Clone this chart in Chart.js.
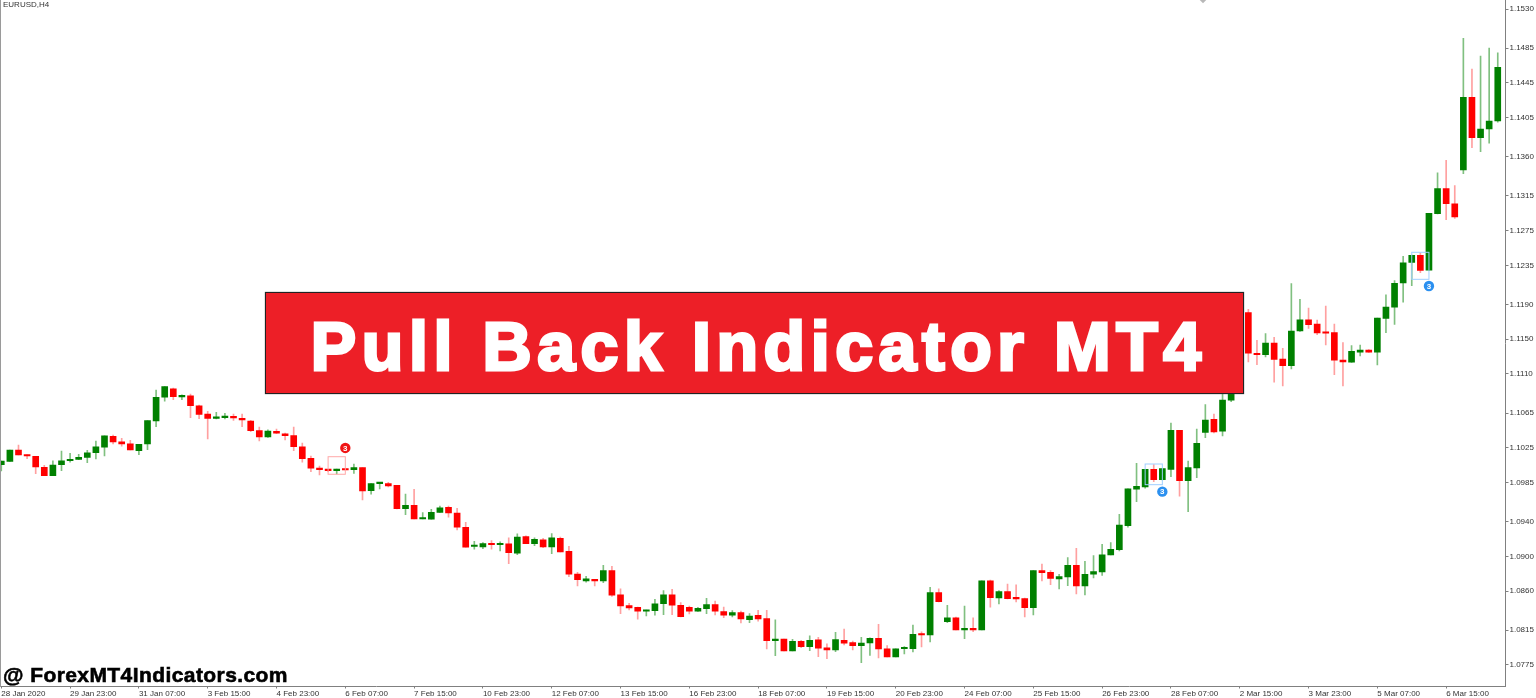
<!DOCTYPE html>
<html lang="en">
<head>
<meta charset="UTF-8">
<title>Pull Back Indicator MT4</title>
<script src="https://cdnjs.cloudflare.com/ajax/libs/Chart.js/4.4.1/chart.umd.min.js"></script>
<style>
  html, body { margin: 0; padding: 0; background: #fff; overflow: hidden; }
  #wrap { position: relative; width: 1536px; height: 698px; }
  canvas { display: block; }
  .leftline { position: absolute; left: 0; top: 0; width: 1px; height: 687px; background: #9a9a9a; }
  .symbol { position: absolute; left: 3px; top: 0; font: 8px "Liberation Sans"; color: #333; line-height: 10px; }
  .diamond { position: absolute; left: 1200px; top: -4px; width: 6px; height: 6px; background: #b8b8b8; transform: rotate(45deg); }
  .banner { position: absolute; left: 265px; top: 292px; width: 977px; height: 100px; background: #ed1f27; border: 1px solid #222;
    box-shadow: 0 0 1px #555; color: #fff; text-align: center; font: bold 68px/107px "Liberation Sans"; letter-spacing: 5.6px;
    text-indent: 8.6px; -webkit-text-stroke: 3px #fff; white-space: nowrap; }
  .site { position: absolute; left: 3px; top: 662px; font: bold 21px/26px "Liberation Sans"; color: #000; letter-spacing: 0.42px;
    -webkit-text-stroke: 0.6px #000; white-space: nowrap; }
</style>
</head>
<body>
<div id="wrap">
  <canvas id="myChart" width="1536" height="698"></canvas>
  <div class="leftline"></div>
  <div class="symbol">EURUSD,H4</div>
  <div class="diamond"></div>
  <div class="banner">Pull Back Indicator MT4</div>
  <div class="site">@ ForexMT4Indicators.com</div>
</div>

<script>
// EURUSD H4 candles
const opens = [
  1.10055,1.10094,1.10224,1.10170,1.10152,1.10025,1.09929,1.10055,1.10101,1.10117,
  1.10140,1.10193,1.10256,1.10382,1.10317,1.10294,1.10216,1.10294,1.10558,1.10831,
  1.10927,1.10835,1.10849,1.10734,1.10639,1.10589,1.10596,1.10612,1.10589,1.10558,
  1.10447,1.10374,1.10440,1.10409,1.10389,1.10262,1.10129,1.10014,1.09994,1.09986,
  1.10002,1.09998,1.10021,1.09756,1.09837,1.09837,1.09818,1.09549,1.09588,1.09430,
  1.09427,1.09507,1.09565,1.09499,1.09335,1.09113,1.09108,1.09151,1.09134,1.09143,
  1.09036,1.09227,1.09146,1.09189,1.09108,1.09208,1.09059,1.08797,1.08717,1.08736,
  1.08717,1.08835,1.08556,1.08432,1.08414,1.08368,1.08375,1.08455,1.08556,1.08437,
  1.08414,1.08368,1.08398,1.08444,1.08363,1.08322,1.08352,1.08271,1.08322,1.08283,
  1.08030,1.08049,1.07911,1.08023,1.07961,1.08038,1.07946,1.07922,1.08034,1.08007,
  1.07972,1.08003,1.08057,1.07937,1.07842,1.07937,1.07937,1.08107,1.08095,1.08582,
  1.08248,1.08291,1.08153,1.08168,1.08153,1.08717,1.08521,1.08594,1.08521,1.08513,
  1.08409,1.08835,1.08817,1.08740,1.08763,1.08897,1.08659,1.08794,1.08820,1.09016,
  1.09077,1.09353,1.09772,1.09799,1.10002,1.09883,1.10002,1.10451,1.09871,1.10017,
  1.10428,1.10578,1.10440,1.10797,1.11088,1.11805,1.11338,1.11321,1.11456,1.11272,
  1.11195,1.11594,1.11724,1.11675,1.11579,1.11575,1.11260,1.11234,1.11349,1.11375,
  1.11349,1.11740,1.11867,1.12147,1.12383,1.12465,1.12293,1.12944,1.13232,1.13059,
  1.13447,1.14284,1.13819,1.13919,1.14011
];
const closes = [
  1.10098,1.10224,1.10167,1.10155,1.10029,1.09929,1.10052,1.10101,1.10117,1.10140,
  1.10193,1.10262,1.10386,1.10317,1.10294,1.10224,1.10290,1.10562,1.10831,1.10953,
  1.10838,1.10854,1.10734,1.10635,1.10589,1.10601,1.10612,1.10593,1.10570,1.10447,
  1.10374,1.10443,1.10417,1.10389,1.10262,1.10124,1.10014,1.09998,1.09986,1.10002,
  1.09994,1.10021,1.09753,1.09837,1.09841,1.09810,1.09549,1.09588,1.09430,1.09434,
  1.09507,1.09560,1.09499,1.09335,1.09105,1.09116,1.09146,1.09134,1.09143,1.09042,
  1.09223,1.09146,1.09197,1.09108,1.09212,1.09050,1.08794,1.08732,1.08740,1.08717,
  1.08835,1.08552,1.08429,1.08406,1.08368,1.08380,1.08455,1.08556,1.08437,1.08306,
  1.08368,1.08402,1.08444,1.08368,1.08322,1.08352,1.08279,1.08314,1.08279,1.08030,
  1.08049,1.07911,1.08023,1.07961,1.08034,1.07942,1.07922,1.08041,1.08000,1.07972,
  1.08003,1.08057,1.07934,1.07842,1.07937,1.07946,1.08103,1.08095,1.08582,1.08478,
  1.08291,1.08153,1.08168,1.08153,1.08717,1.08524,1.08594,1.08513,1.08510,1.08409,
  1.08835,1.08812,1.08745,1.08766,1.08897,1.08659,1.08794,1.08824,1.09019,1.09082,
  1.09361,1.09776,1.09807,1.10002,1.09883,1.10009,1.10451,1.09871,1.10021,1.10302,
  1.10570,1.10432,1.10800,1.11088,1.11801,1.11338,1.11321,1.11456,1.11268,1.11195,
  1.11594,1.11724,1.11667,1.11571,1.11568,1.11257,1.11237,1.11360,1.11375,1.11349,
  1.11744,1.11870,1.12143,1.12380,1.12465,1.12291,1.12949,1.13232,1.13059,1.12906,
  1.14284,1.13819,1.13919,1.14011,1.14629
];
const highs = [
  1.10098,1.10224,1.10282,1.10170,1.10152,1.10048,1.10101,1.10213,1.10186,1.10175,
  1.10221,1.10328,1.10386,1.10397,1.10359,1.10336,1.10290,1.10562,1.10915,1.10953,
  1.10938,1.10858,1.10869,1.10742,1.10670,1.10658,1.10647,1.10639,1.10639,1.10566,
  1.10489,1.10455,1.10466,1.10420,1.10489,1.10305,1.10155,1.10040,1.09994,1.10006,
  1.10002,1.10063,1.10021,1.09839,1.09841,1.09853,1.09818,1.09718,1.09772,1.09503,
  1.09542,1.09580,1.09580,1.09553,1.09392,1.09174,1.09158,1.09181,1.09166,1.09212,
  1.09258,1.09235,1.09212,1.09208,1.09261,1.09223,1.09116,1.08817,1.08771,1.08736,
  1.08897,1.08886,1.08625,1.08460,1.08417,1.08383,1.08506,1.08605,1.08621,1.08467,
  1.08429,1.08414,1.08518,1.08486,1.08417,1.08375,1.08371,1.08340,1.08380,1.08380,
  1.08268,1.08049,1.08046,1.08034,1.08084,1.08069,1.07992,1.08126,1.08164,1.08026,
  1.08069,1.08061,1.08218,1.07972,1.07937,1.07961,1.08210,1.08130,1.08644,1.08625,
  1.08437,1.08302,1.08429,1.08291,1.08717,1.08728,1.08605,1.08682,1.08671,1.08521,
  1.08837,1.08912,1.08835,1.08794,1.08985,1.09093,1.08943,1.09008,1.09139,1.09158,
  1.09484,1.09776,1.10071,1.10002,1.10055,1.10009,1.10535,1.10451,1.10098,1.10466,
  1.10746,1.10639,1.10869,1.11145,1.11847,1.11844,1.11487,1.11563,1.11522,1.11395,
  1.12139,1.11959,1.11859,1.11721,1.11882,1.11675,1.11460,1.11425,1.11433,1.11379,
  1.11744,1.12009,1.12173,1.12454,1.12469,1.12495,1.12949,1.13416,1.13559,1.13267,
  1.14963,1.14610,1.14759,1.14852,1.14797
];
const lows = [
  1.09983,1.10094,1.10167,1.10124,1.09952,1.09929,1.09929,1.09986,1.10083,1.10112,
  1.10078,1.10121,1.10155,1.10294,1.10267,1.10224,1.10170,1.10228,1.10493,1.10785,
  1.10803,1.10803,1.10596,1.10585,1.10351,1.10581,1.10581,1.10566,1.10493,1.10435,
  1.10328,1.10368,1.10412,1.10340,1.10216,1.10083,1.09975,1.09937,1.09975,1.09948,
  1.09994,1.09956,1.09649,1.09715,1.09776,1.09799,1.09545,1.09480,1.09430,1.09430,
  1.09427,1.09505,1.09450,1.09304,1.09105,1.09082,1.09088,1.09082,1.09062,1.08916,
  1.09019,1.09146,1.09123,1.09100,1.09031,1.09050,1.08766,1.08659,1.08702,1.08659,
  1.08697,1.08540,1.08340,1.08383,1.08276,1.08314,1.08322,1.08329,1.08329,1.08302,
  1.08337,1.08366,1.08340,1.08325,1.08294,1.08302,1.08233,1.08237,1.08253,1.07934,
  1.07857,1.07911,1.07911,1.07949,1.07914,1.07845,1.07822,1.07903,1.07980,1.07922,
  1.07776,1.07861,1.07830,1.07842,1.07842,1.07876,1.07899,1.07957,1.08015,1.08475,
  1.08237,1.08153,1.08053,1.08133,1.08153,1.08414,1.08452,1.08510,1.08475,1.08302,
  1.08325,1.08717,1.08674,1.08625,1.08663,1.08567,1.08556,1.08751,1.08782,1.09016,
  1.09062,1.09335,1.09629,1.09784,1.09860,1.09879,1.09917,1.09692,1.09514,1.09906,
  1.10366,1.10420,1.10386,1.10780,1.11030,1.11237,1.11206,1.11295,1.11004,1.10961,
  1.11157,1.11588,1.11625,1.11552,1.11433,1.11091,1.10961,1.11232,1.11306,1.11347,
  1.11203,1.11575,1.11671,1.11925,1.12116,1.12265,1.12291,1.12941,1.12875,1.12891,
  1.13405,1.13704,1.13658,1.13755,1.13999
];

// tick labels
const timeLabels = ['28 Jan 2020','29 Jan 23:00','31 Jan 07:00','3 Feb 15:00','4 Feb 23:00','6 Feb 07:00',
  '7 Feb 15:00','10 Feb 23:00','12 Feb 07:00','13 Feb 15:00','16 Feb 23:00','18 Feb 07:00','19 Feb 15:00',
  '20 Feb 23:00','24 Feb 07:00','25 Feb 15:00','26 Feb 23:00','28 Feb 07:00','2 Mar 15:00','3 Mar 23:00',
  '5 Mar 07:00','6 Mar 15:00'];
const priceTicks = [1.1530,1.1485,1.1445,1.1405,1.1360,1.1315,1.1275,1.1235,1.1190,1.1150,1.1110,
  1.1065,1.1025,1.0985,1.0940,1.0900,1.0860,1.0815,1.0775];
const barsPerLabel = 8;

// the three pattern boxes of the indicator
const patternFrom = [38, 133, 164];
const patternTo = [40, 135, 166];
const patternTop = [1.10147, 1.10063, 1.12500];
const patternBottom = [1.09945, 1.09825, 1.12189];
const patternBadge = [1.10248, 1.09745, 1.12112];
const patternCount = ['3', '3', '3'];
const patternBull = [false, true, true];

const GREEN = '#008000', RED = '#ff0000';
const isBull = i => closes[i] >= opens[i];

const bodies = opens.map((o, i) => ({ x: i, y: [o, closes[i]] }));
const wicks = lows.map((l, i) => ({ x: i, y: [l, highs[i]] }));

const patternPlugin = {
  id: 'patterns',
  afterDatasetsDraw(chart) {
    const { ctx, scales: { x, y } } = chart;
    patternFrom.forEach((from, i) => {
      const left = x.getPixelForValue(from), right = x.getPixelForValue(patternTo[i]);
      const top = y.getPixelForValue(patternTop[i]), bottom = y.getPixelForValue(patternBottom[i]);
      ctx.save();
      ctx.strokeStyle = patternBull[i] ? '#9fcfff' : '#ffa8a8';
      ctx.lineWidth = 1;
      ctx.strokeRect(left, top, right - left, bottom - top);
      ctx.fillStyle = patternBull[i] ? '#2b90f0' : '#f01414';
      ctx.beginPath();
      ctx.arc(right, y.getPixelForValue(patternBadge[i]), 5.2, 0, Math.PI * 2);
      ctx.fill();
      ctx.fillStyle = '#fff';
      ctx.font = 'bold 8px "Liberation Sans"';
      ctx.textAlign = 'center';
      ctx.textBaseline = 'middle';
      ctx.fillText(patternCount[i], right, y.getPixelForValue(patternBadge[i]) + 0.5);
      ctx.restore();
    });
  }
};

new Chart(document.getElementById('myChart'), {
  type: 'bar',
  plugins: [patternPlugin],
  data: {
    datasets: [
      {
        label: 'wick',
        data: wicks,
        order: 2,
        grouped: false,
        barThickness: 1,
        backgroundColor: wicks.map((w, i) => isBull(i) ? '#80c080' : '#ffa0a0')
      },
      {
        label: 'body',
        data: bodies,
        order: 1,
        grouped: false,
        barThickness: 6,
        minBarLength: 1.5,
        backgroundColor: bodies.map((b, i) => isBull(i) ? GREEN : RED)
      }
    ]
  },
  options: {
    responsive: false,
    animation: false,
    layout: { padding: 0 },
    plugins: { legend: { display: false }, tooltip: { enabled: false } },
    scales: {
      x: {
        type: 'linear',
        offset: false,
        min: -0.15,
        max: 174.9,
        afterBuildTicks(axis) {
          axis.ticks = timeLabels.map((t, i) => ({ value: i * barsPerLabel }));
        },
        afterFit(axis) {
          axis.height = 11.5;
          axis.paddingLeft = 0;
          axis.paddingRight = 0;
        },
        grid: { offset: false, drawOnChartArea: false, tickLength: 2, color: '#808080' },
        border: { color: '#808080', width: 1 },
        ticks: {
          autoSkip: false,
          maxRotation: 0,
          align: 'start',
          padding: 0,
          color: '#333',
          font: { family: 'Liberation Sans', size: 8 },
          callback(value) { return timeLabels[value / barsPerLabel]; }
        }
      },
      y: {
        position: 'right',
        min: 1.07502,
        max: 1.15404,
        afterBuildTicks(axis) {
          axis.ticks = priceTicks.map(v => ({ value: v }));
        },
        afterFit(axis) {
          axis.width = 30.5;
          axis.paddingTop = 0;
          axis.paddingBottom = 0;
        },
        grid: { drawOnChartArea: false, tickLength: 3, color: '#808080' },
        border: { color: '#808080', width: 1 },
        ticks: {
          padding: 1,
          color: '#333',
          font: { family: 'Liberation Sans', size: 8 },
          callback(value) { return value.toFixed(4); }
        }
      }
    }
  }
});
</script>
</body>
</html>
